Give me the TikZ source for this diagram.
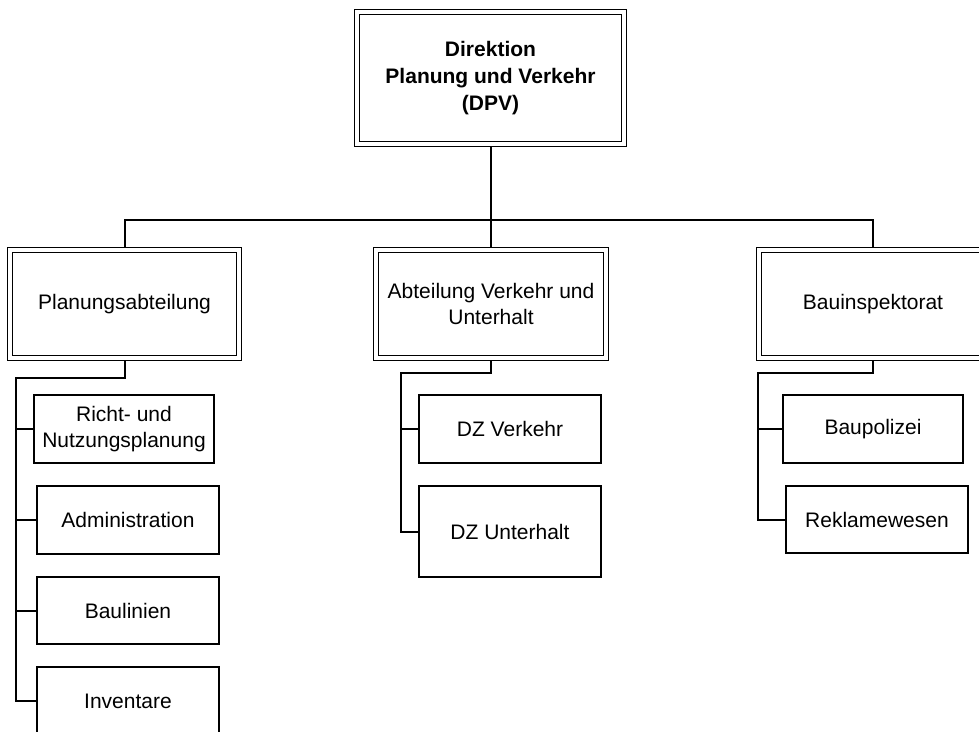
\documentclass[tikz,border=0pt]{standalone}
\usepackage{fontspec}
\setmainfont{Liberation Sans}
\usetikzlibrary{backgrounds}
\begin{document}
\begin{tikzpicture}[x=1pt,y=-1pt,
  txt/.style={font=\fontsize{21}{25.5}\selectfont, align=center, inner sep=0pt},
  dblbox/.style={txt, draw, fill=white, line width=1.4pt, double=white, double distance=3.2pt, rectangle},
  unitbox/.style={txt, draw, fill=white, line width=1.5pt, rectangle},
  conn/.style={draw, line width=2pt, line cap=rect}]
\useasboundingbox (0,0) rectangle (979,731);
\clip (0,0) rectangle (979,731);

% top
\node[dblbox, minimum width=267pt, minimum height=132pt, font=\fontsize{21}{26.7}\selectfont\bfseries] (top) at (490.5,78) {Direktion\\Planung und Verkehr\\(DPV)};

% level 2
\node[dblbox, minimum width=229pt, minimum height=108pt] (P) at (124.5,304) {Planungsabteilung};
\node[dblbox, minimum width=230pt, minimum height=108pt] (A) at (491,304) {Abteilung Verkehr und\\Unterhalt};
\node[dblbox, minimum width=228pt, minimum height=108pt] (R) at (873,304) {Bauinspektorat};

% children
\node[unitbox, minimum width=180pt, minimum height=68pt] (P1) at (124,429) {Richt- und\\Nutzungsplanung};
\node[unitbox, minimum width=182pt, minimum height=68pt] (P2) at (128,520) {Administration};
\node[unitbox, minimum width=182pt, minimum height=67pt] (P3) at (128,610.5) {Baulinien};
\node[unitbox, minimum width=182pt, minimum height=68pt] (P4) at (128,701) {Inventare};

\node[unitbox, minimum width=182pt, minimum height=68pt] (A1) at (510,429) {DZ Verkehr};
\node[unitbox, minimum width=182pt, minimum height=91pt] (A2) at (510,531.5) {DZ Unterhalt};

\node[unitbox, minimum width=180pt, minimum height=68pt] (R1) at (873,429) {Baupolizei};
\node[unitbox, minimum width=182pt, minimum height=67pt] (R2) at (877,519.5) {Reklamewesen};

\coordinate (bus) at (0,220);
\coordinate (ptr) at (16,378);
\coordinate (atr) at (401,373);
\coordinate (rtr) at (758,373);

\begin{pgfonlayer}{background}
\draw[conn] (top.south) -- (top.south |- bus);
\draw[conn] (P.north) -- (P.north |- bus) -- (R.north |- bus) -- (R.north);
\draw[conn] (A.north) -- (A.north |- bus);

\draw[conn] (P.south) -- (P.south |- ptr) -- (ptr) -- (ptr |- P4.west) -- (P4.west);
\draw[conn] (ptr |- P1.west) -- (P1.west);
\draw[conn] (ptr |- P2.west) -- (P2.west);
\draw[conn] (ptr |- P3.west) -- (P3.west);

\draw[conn] (A.south) -- (A.south |- atr) -- (atr) -- (atr |- A2.west) -- (A2.west);
\draw[conn] (atr |- A1.west) -- (A1.west);

\draw[conn] (R.south) -- (R.south |- rtr) -- (rtr) -- (rtr |- R2.west) -- (R2.west);
\draw[conn] (rtr |- R1.west) -- (R1.west);
\end{pgfonlayer}
\end{tikzpicture}
\end{document}
